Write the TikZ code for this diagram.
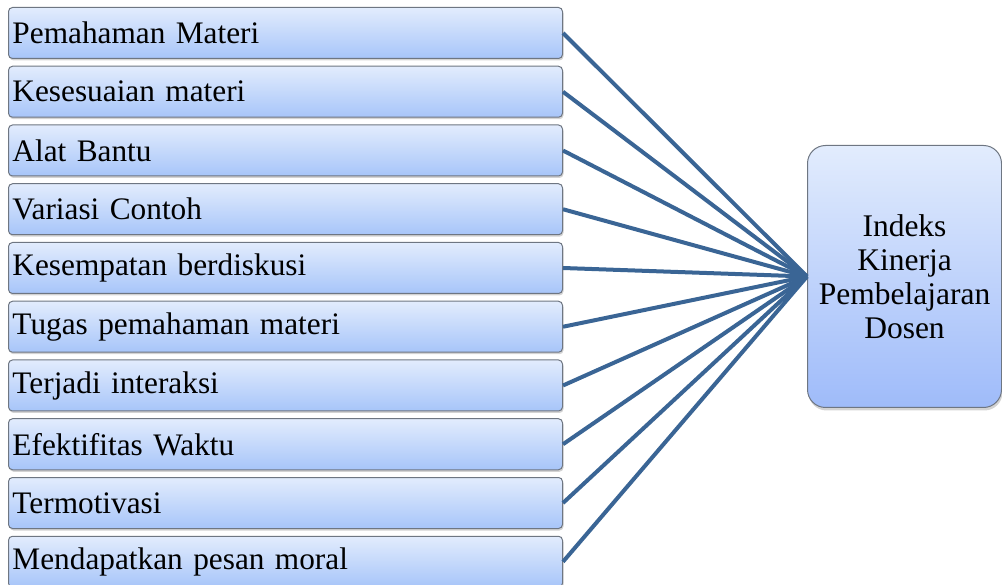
\documentclass[tikz,border=0pt]{standalone}
\usepackage{fontspec}
\setmainfont{Liberation Serif}
\usetikzlibrary{shadows}
\definecolor{boxtop}{RGB}{226,236,253}
\definecolor{boxbot}{RGB}{167,197,249}
\definecolor{linkblue}{RGB}{58,101,149}
\definecolor{edgegray}{RGB}{110,118,130}
\tikzset{
  factor/.style={draw=edgegray, line width=1pt, rounded corners=4pt,
    top color=boxtop, bottom color=boxbot, anchor=north west,
    text width=546pt, inner xsep=4pt, inner ysep=0pt, minimum height=51pt,
    align=left, font=\fontsize{31.3}{34}\selectfont,
    drop shadow={opacity=0.35, shadow xshift=1pt, shadow yshift=-2pt}},
  target/.style={draw=edgegray, line width=1pt, rounded corners=18pt,
    top color=boxtop, bottom color=boxbot!95!blue, anchor=north west,
    minimum width=194pt, minimum height=262pt, inner sep=0pt,
    align=center, font=\fontsize{31.5}{34}\selectfont,
    drop shadow={opacity=0.35, shadow xshift=1pt, shadow yshift=-3pt}},
  link/.style={draw=linkblue, line width=4pt}
}
\begin{document}
\begin{tikzpicture}[x=1pt,y=1pt]
        \useasboundingbox (0,0) rectangle (1002,-585);
        \node[factor] (f1) at (8,-7) {Pemahaman Materi};
        \node[factor] (f2) at (8,-65.75) {Kesesuaian materi};
        \node[factor] (f3) at (8,-124.5) {Alat Bantu};
        \node[factor] (f4) at (8,-183.25) {Variasi Contoh};
        \node[factor] (f5) at (8,-242) {Kesempatan berdiskusi};
        \node[factor] (f6) at (8,-300.75) {Tugas pemahaman materi};
        \node[factor] (f7) at (8,-359.5) {Terjadi interaksi};
        \node[factor] (f8) at (8,-418.25) {Efektifitas Waktu};
        \node[factor] (f9) at (8,-477) {Termotivasi};
        \node[factor] (f10) at (8,-535.75) {Mendapatkan pesan moral};
        \node[target] (ikpd) at (807,-145) {Indeks\\Kinerja\\Pembelajaran\\Dosen};
        \foreach \i in {1,...,10}
            \draw[link] (f\i.east) -- (ikpd.west);
    \end{tikzpicture}
\end{document}
